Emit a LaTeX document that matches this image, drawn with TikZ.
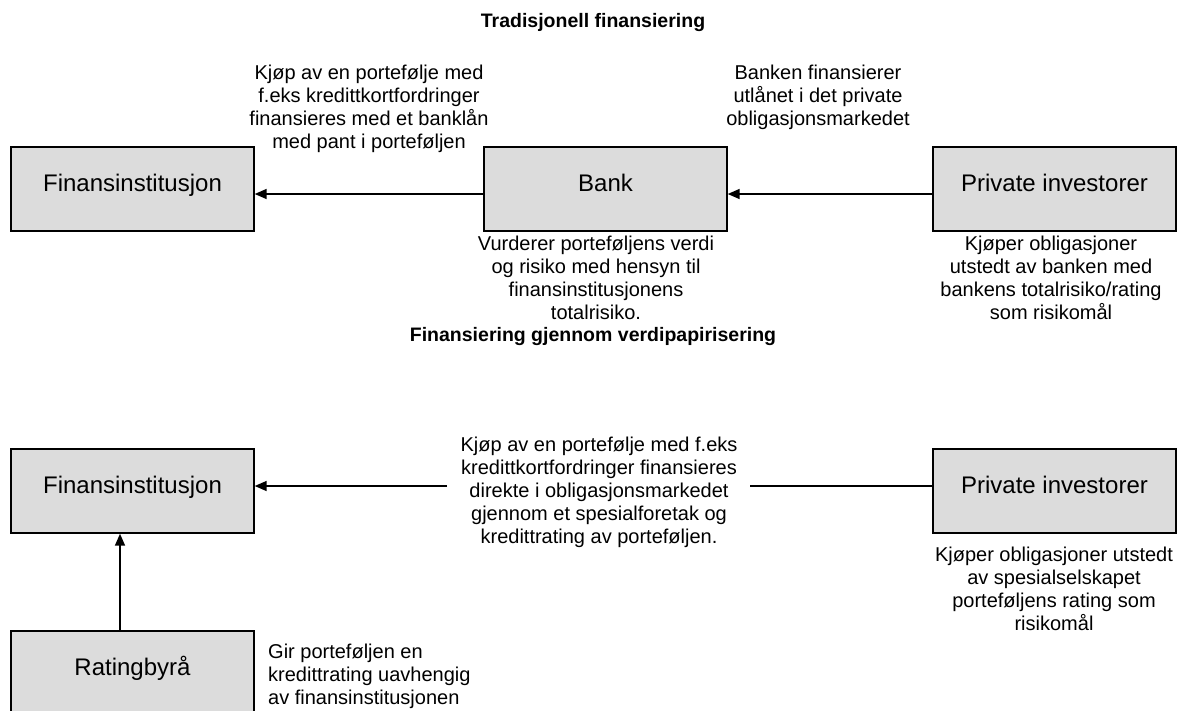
\documentclass[tikz,border=0pt]{standalone}
\usepackage{fontspec}
\setmainfont{Liberation Sans}
\usetikzlibrary{arrows.meta}
\definecolor{boxgray}{RGB}{220,220,220}
\begin{document}
\begin{tikzpicture}[x=1pt,y=-1pt,
  box/.style={draw=black, line width=1.4pt, fill=boxgray, minimum width=243pt, minimum height=84pt,
    inner sep=0pt, font=\fontsize{24}{28}\selectfont, text height=21pt, text depth=17pt},
  lbl/.style={inner sep=0pt, anchor=base, font=\fontsize{20}{23}\selectfont},
  ttl/.style={inner sep=0pt, anchor=base, font=\bfseries\fontsize{19.5}{22}\selectfont},
  conn/.style={line width=1.6pt},
  arr/.style={conn, -{Triangle[length=12pt,width=10pt]}}]
\useasboundingbox (0,0) rectangle (1180,710);

% titles
\node[ttl] (t1) at (593,27) {Tradisjonell finansiering};
\node[ttl] (t2) at (593,341) {Finansiering gjennom verdipapirisering};

% boxes
\node[box] (fi1) at (132.5,189) {Finansinstitusjon};
\node[box] (bank) at (605.5,189) {Bank};
\node[box] (pi1) at (1054.5,189) {Private investorer};
\node[box] (fi2) at (132.5,491) {Finansinstitusjon};
\node[box] (pi2) at (1054.5,491) {Private investorer};
\node[box] (rb) at (132.5,673) {Ratingbyrå};

% connectors
\draw[arr] ([yshift=-5pt]bank.west) -- ([yshift=-5pt]fi1.east);
\draw[arr] ([yshift=-5pt]pi1.west) -- ([yshift=-5pt]bank.east);
\coordinate (gapR) at (750,486);
\coordinate (gapL) at (447,486);
\draw[conn] (pi2.west |- gapR) -- (gapR);
\draw[arr] (gapL) -- (fi2.east |- gapL);
\coordinate (vx) at (120,0);
\draw[arr] (rb.north -| vx) -- (fi2.south -| vx);

% labels
\node[lbl] (l1) at (369,79) {\begin{tabular}[t]{@{}c@{}}Kjøp av en portefølje med\\f.eks kredittkortfordringer\\finansieres med et banklån\\med pant i porteføljen\end{tabular}};
\node[lbl] (l2) at (818,79) {\begin{tabular}[t]{@{}c@{}}Banken finansierer\\utlånet i det private\\obligasjonsmarkedet\end{tabular}};
\node[lbl] (l3) at (596,250) {\begin{tabular}[t]{@{}c@{}}Vurderer porteføljens verdi\\og risiko med hensyn til\\finansinstitusjonens\\totalrisiko.\end{tabular}};
\node[lbl] (l4) at (1051,250) {\begin{tabular}[t]{@{}c@{}}Kjøper obligasjoner\\utstedt av banken med\\bankens totalrisiko/rating\\som risikomål\end{tabular}};
\node[lbl] (l5) at (599,451) {\begin{tabular}[t]{@{}c@{}}Kjøp av en portefølje med f.eks\\kredittkortfordringer finansieres\\direkte i obligasjonsmarkedet\\gjennom et spesialforetak og\\kredittrating av porteføljen.\end{tabular}};
\node[lbl] (l6) at (1054,561) {\begin{tabular}[t]{@{}c@{}}Kjøper obligasjoner utstedt\\av spesialselskapet\\porteføljens rating som\\risikomål\end{tabular}};
\node[lbl, anchor=base west] (l7) at (268,658) {\begin{tabular}[t]{@{}l@{}}Gir porteføljen en\\kredittrating uavhengig\\av finansinstitusjonen\end{tabular}};
\end{tikzpicture}
\end{document}
